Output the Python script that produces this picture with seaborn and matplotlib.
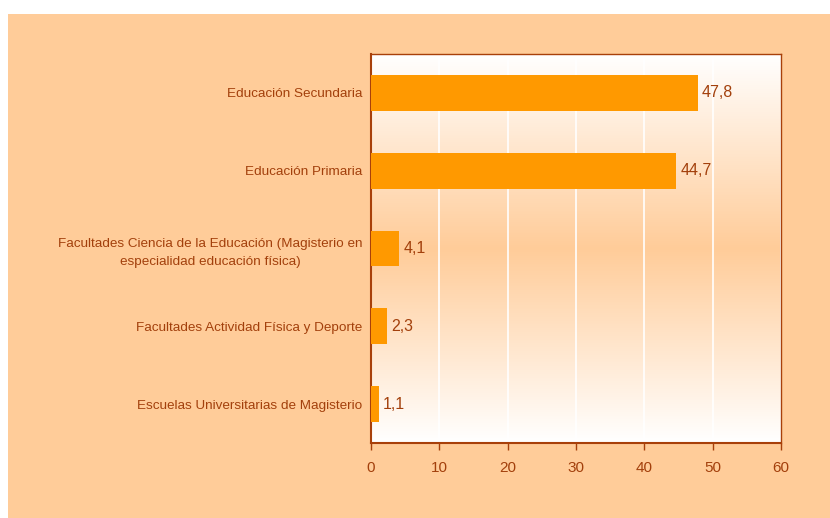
import numpy as np
import pandas as pd
import matplotlib
matplotlib.use('Agg')
import matplotlib.pyplot as plt
from matplotlib.colors import LinearSegmentedColormap
from matplotlib.patches import Rectangle
import seaborn as sns

# data
categorias = ['Educación Secundaria',
              'Educación Primaria',
              'Facultades Ciencia de la Educación (Magisterio en\nespecialidad educación física)',
              'Facultades Actividad Física y Deporte',
              'Escuelas Universitarias de Magisterio']
valores = [47.8, 44.7, 4.1, 2.3, 1.1]
xticks = [0, 10, 20, 30, 40, 50, 60]

df = pd.DataFrame({'cat': categorias, 'val': valores})

sns.set_style('white')
plt.rcParams['font.family'] = ['Liberation Sans', 'DejaVu Sans']

txt = '#A3400C'
axcol = '#A8400A'
peach = '#FFCC99'

fig = plt.figure(figsize=(8.3, 5.18), dpi=100, facecolor='white')
# peach panel behind the chart
fig.patches.append(Rectangle((8 / 830, 0), 1, 1 - 14 / 518, transform=fig.transFigure,
                             facecolor=peach, edgecolor='none', zorder=-5))
ax = fig.add_axes([371 / 830, 1 - 443 / 518, 410 / 830, 389 / 518])

# vertical gradient: white -> peach -> white
cmap = LinearSegmentedColormap.from_list('g', ['white', peach, 'white'])
grad = np.linspace(0, 1, 256).reshape(-1, 1)
ax.imshow(grad, aspect='auto', cmap=cmap, extent=(0, 60, 4.5, -0.5), zorder=0)

sns.barplot(data=df, y='cat', x='val', color='#FF9900', width=0.46, saturation=1,
            orient='h', ax=ax, zorder=3, linewidth=0)

ax.set_xlim(0, 60)
ax.set_ylim(4.5, -0.5)
ax.set_xticks(xticks)
ax.grid(axis='x', color='white', linewidth=1.2, zorder=1)
ax.set_axisbelow(True)

ax.set_yticks(range(len(categorias)))
ax.set_yticklabels(categorias, fontsize=9.7, color=txt, multialignment='center',
                   linespacing=1.65)
ax.set_yticks(np.arange(-0.5, len(categorias), 1), minor=True)
ax.tick_params(axis='y', which='major', length=0, pad=6)
ax.tick_params(axis='y', which='minor', length=5, color=axcol, width=1, direction='out')
ax.tick_params(axis='x', length=5, color=axcol, width=1, direction='out',
               labelsize=11, labelcolor=txt, pad=8, bottom=True)

for s in ax.spines.values():
    s.set_color(axcol)
    s.set_linewidth(1)
    s.set_visible(True)
ax.spines['left'].set_linewidth(1.5)
ax.spines['bottom'].set_linewidth(1.5)

ax.set_xlabel('')
ax.set_ylabel('')

ax.bar_label(ax.containers[0], labels=[f'{v:.1f}'.replace('.', ',') for v in valores],
             padding=3, fontsize=11.5, color=txt)

fig.savefig('out.png', dpi=100, facecolor=fig.get_facecolor())
